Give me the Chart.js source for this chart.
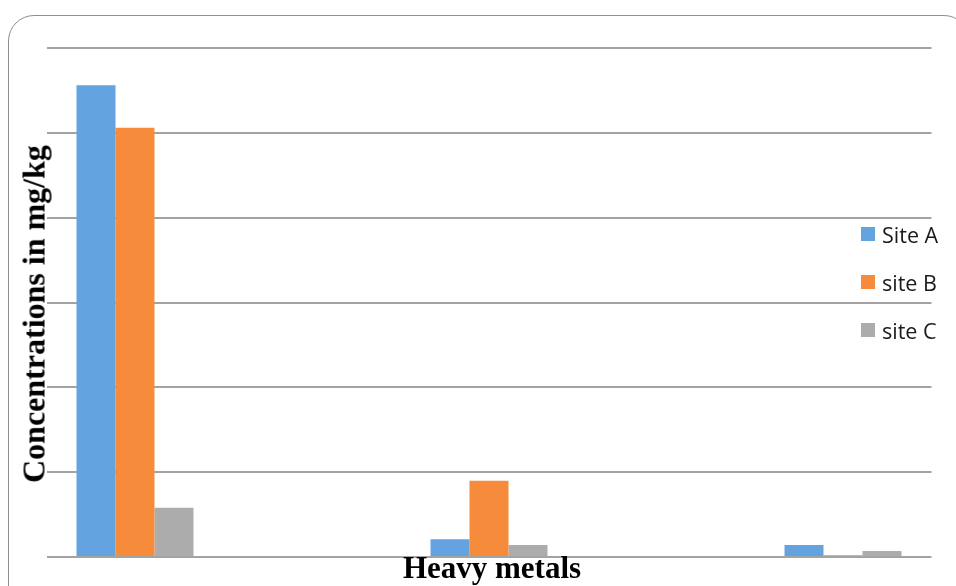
<!DOCTYPE html>
<html>
<head>
<meta charset="utf-8">
<script src="https://cdn.jsdelivr.net/npm/chart.js@4/dist/chart.umd.min.js"></script>
<style>
  html, body { margin: 0; padding: 0; background: #fff; overflow: hidden; }
  #page { position: relative; width: 956px; height: 586px; overflow: hidden; }
  #frame {
    position: absolute; left: 8px; top: 15px; width: 962px; height: 640px;
    border: 1.5px solid #8f8f8f; border-radius: 26px; box-sizing: border-box;
  }
  #wrap { position: absolute; left: 0; top: 0; width: 956px; height: 586px; }
  .axis-title {
    position: absolute; font-family: "Liberation Serif", "Times New Roman", serif;
    font-weight: bold; font-size: 31px; line-height: 31px; white-space: nowrap; color: #000;
  }
  #ytitle { left: 34px; top: 314px; font-size: 32px; transform: translate(-50%, -50%) rotate(-90deg); }
  #xtitle { left: 492px; top: 552px; transform: translateX(-50%); }
  #legend { position: absolute; left: 861px; top: 210px; font-family: "Open Sans", sans-serif; font-size: 21.5px; color: #1a1a1a; }
  #legend .item { display: flex; align-items: center; height: 48px; }
  #legend .box { width: 14px; height: 14px; margin-right: 7px; }
</style>
</head>
<body>
<div id="page">
  <div id="frame"></div>
  <div id="wrap"><canvas id="chart"></canvas></div>
  <div class="axis-title" id="ytitle">Concentrations in mg/kg</div>
  <div class="axis-title" id="xtitle">Heavy metals</div>
  <div id="legend"></div>
</div>
<script>
// categories (no tick labels are shown in the figure)
const metals = ['Metal 1', 'Metal 2', 'Metal 3', 'Metal 4', 'Metal 5'];

// concentrations, mg/kg
const siteA = [556, null, 21, null, 14];
const siteB = [506, null, 90, null, 2];
const siteC = [58, null, 14, null, 7];

const seriesNames = ['Site A', 'site B', 'site C'];
const colours = ['#62a3e0', '#f68b3b', '#acacac'];

const yMax = 600;
const yStep = 100;

const chart = new Chart(document.getElementById('chart'), {
    type: 'bar',
    data: {
        labels: metals,
        datasets: [siteA, siteB, siteC].map((vals, i) => ({
            label: seriesNames[i],
            data: vals,
            backgroundColor: colours[i],
            borderWidth: 0,
            categoryPercentage: 0.661,
            barPercentage: 1
        }))
    },
    options: {
        responsive: true,
        maintainAspectRatio: false,
        animation: false,
        layout: { padding: { left: 46.5, right: 24.5, top: 48, bottom: 29 } },
        plugins: { legend: { display: false }, tooltip: { enabled: false } },
        scales: {
            x: { display: false },
            y: {
                min: 0,
                max: yMax,
                ticks: { display: false, stepSize: yStep },
                grid: { color: '#a3a3a3', lineWidth: 2, drawTicks: false },
                border: { display: false }
            }
        }
    }
});

// legend as html, from the datasets
const legend = document.getElementById('legend');
chart.data.datasets.forEach(ds => {
    const item = document.createElement('div');
    item.className = 'item';
    item.innerHTML = '<span class="box" style="background:' + ds.backgroundColor + '"></span>' + ds.label;
    legend.appendChild(item);
});
</script>
</body>
</html>
